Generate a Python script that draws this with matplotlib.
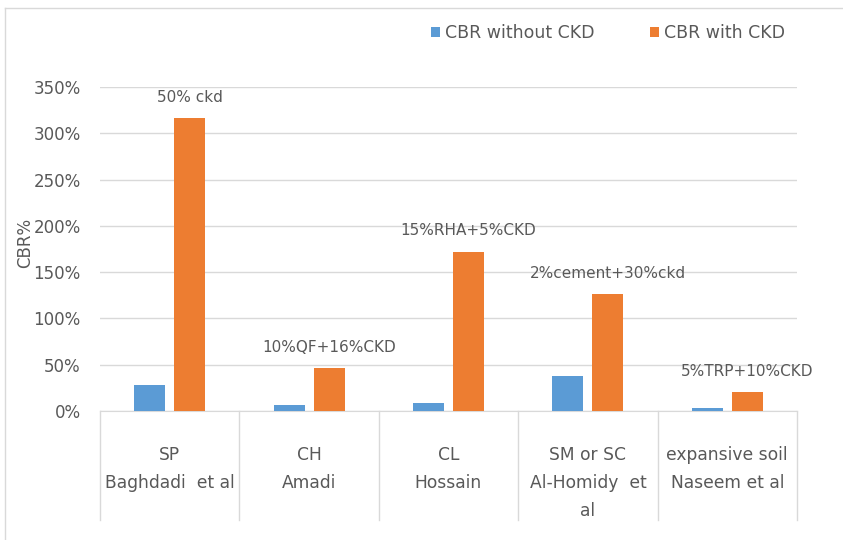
import matplotlib.pyplot as plt
import numpy as np

# data
soils = ['SP', 'CH', 'CL', 'SM or SC', 'expansive soil']
authors = ['Baghdadi  et al', 'Amadi', 'Hossain', 'Al-Homidy  et\nal', 'Naseem et al']
cbr_without = [0.28, 0.065, 0.09, 0.38, 0.03]
cbr_with = [3.16, 0.46, 1.72, 1.26, 0.20]
mixes = ['50% ckd', '10%QF+16%CKD', '15%RHA+5%CKD', '2%cement+30%ckd', '5%TRP+10%CKD']

blue = '#5B9BD5'
orange = '#ED7D31'
grey_txt = '#595959'

fig = plt.figure(figsize=(8.43, 5.40), dpi=100)
ax = fig.add_axes([100 / 843, 129 / 540, 697 / 843, 324 / 540])

x = np.arange(len(soils))
w = 0.222
off = 0.143
ax.bar(x - off, cbr_without, w, color=blue, label='CBR without CKD', zorder=3)
ax.bar(x + off, cbr_with, w, color=orange, label='CBR with CKD', zorder=3)

# mix labels above the orange bars
for xi, v, txt in zip(x, cbr_with, mixes):
    ax.annotate(txt, (xi + off, v), xytext=(0, 15),
                textcoords='offset points', ha='center', va='center',
                fontsize=11, color=grey_txt)

ax.set_xlim(-0.5, len(soils) - 0.5)
ax.set_ylim(0, 3.5)
ax.set_yticks(np.arange(0, 3.51, 0.5))
ax.set_yticklabels([f'{int(round(t * 100))}%' for t in np.arange(0, 3.51, 0.5)])
ax.yaxis.grid(True, color='#D9D9D9', linewidth=1, zorder=0)
ax.tick_params(axis='y', length=0, labelsize=12, labelcolor=grey_txt, pad=14)
ax.set_xticks([])
for s in ['top', 'right', 'left']:
    ax.spines[s].set_visible(False)
ax.spines['bottom'].set_color('#D9D9D9')

ax.set_ylabel('CBR%', fontsize=12, color=grey_txt)
ax.yaxis.set_label_coords(-0.095, 0.52)

# two-row category table under the axis
trans = ax.get_xaxis_transform()
for b in np.arange(-0.5, len(soils), 1.0):
    ax.plot([b, b], [0, -0.335], transform=trans, color='#D9D9D9',
            linewidth=1, clip_on=False)
for xi, s, a in zip(x, soils, authors):
    ax.text(xi, -0.136, s, transform=trans, ha='center', va='center',
            fontsize=12.3, color=grey_txt)
    if '\n' in a:
        ax.text(xi, -0.194, a, transform=trans, ha='center', va='top',
                fontsize=12.3, color=grey_txt, linespacing=1.75)
    else:
        ax.text(xi, -0.222, a, transform=trans, ha='center', va='center',
                fontsize=12.3, color=grey_txt)

leg = ax.legend(loc='lower right', bbox_to_anchor=(1.005, 1.09), ncol=2,
                frameon=False, fontsize=12.5, handlelength=0.5, handleheight=0.5,
                columnspacing=3.2, handletextpad=0.3)
for t in leg.get_texts():
    t.set_color(grey_txt)

# light frame on top and left edge
fig.add_artist(plt.Line2D([5 / 843, 1], [1 - 8 / 540, 1 - 8 / 540], color='#D9D9D9', lw=1))
fig.add_artist(plt.Line2D([5 / 843, 5 / 843], [0, 1 - 8 / 540], color='#D9D9D9', lw=1))

fig.savefig('out.png', dpi=100)
